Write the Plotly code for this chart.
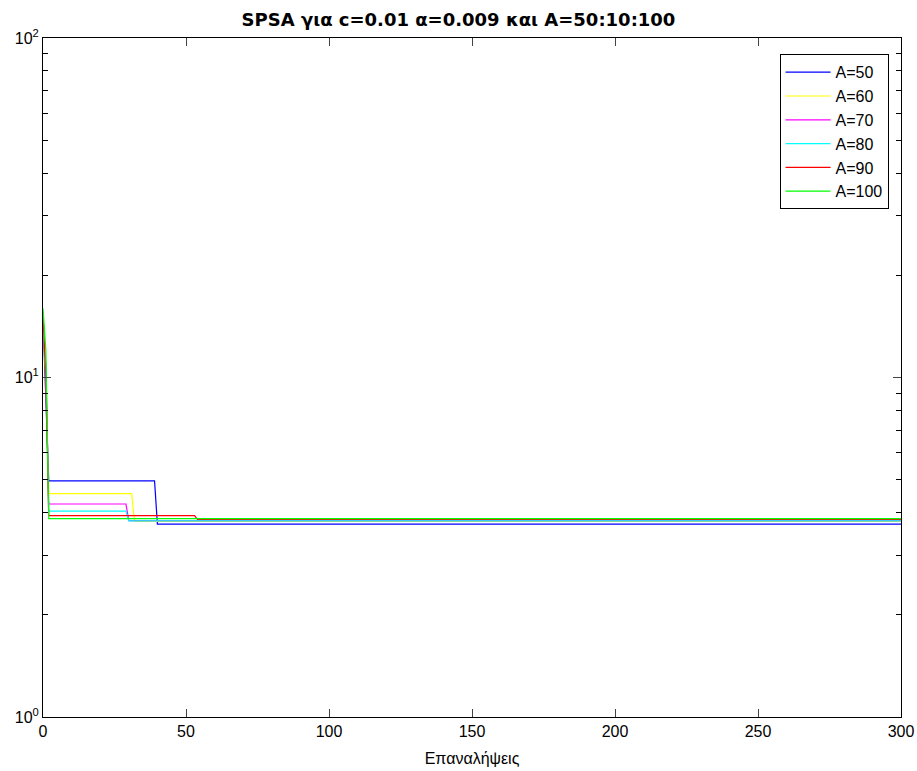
import plotly.graph_objects as go

# Iteration breakpoints and values (values held constant between breakpoints)
labels = ["A=50", "A=60", "A=70", "A=80", "A=90", "A=100"]
colors = ["#0000FF", "#FFFF00", "#FF00FF", "#00FFFF", "#FF0000", "#00FF00"]

x_a50 = [0, 1, 2, 39, 40, 300]
y_a50 = [15.0, 8.8, 4.96, 4.96, 3.70, 3.70]

x_a60 = [0, 1, 2, 31, 32, 300]
y_a60 = [14.0, 10.0, 4.55, 4.55, 3.77, 3.77]

x_a70 = [0, 1, 2, 29, 30, 300]
y_a70 = [13.0, 11.0, 4.24, 4.24, 3.79, 3.79]

x_a80 = [0, 1, 2, 29, 30, 300]
y_a80 = [14.5, 10.5, 4.04, 4.04, 3.78, 3.78]

x_a90 = [0, 1, 2, 53, 54, 300]
y_a90 = [15.5, 10.0, 3.92, 3.92, 3.82, 3.82]

x_a100 = [0, 1, 2, 300]
y_a100 = [16.0, 12.0, 3.84, 3.84]

xs = [x_a50, x_a60, x_a70, x_a80, x_a90, x_a100]
ys = [y_a50, y_a60, y_a70, y_a80, y_a90, y_a100]

x_ticks = [0, 50, 100, 150, 200, 250, 300]
y_ticks = [1, 10, 100]
y_ticktext = ["10<sup>0</sup>", "10<sup>1</sup>", "10<sup>2</sup>"]
y_minor = [2, 3, 4, 5, 6, 7, 8, 9, 20, 30, 40, 50, 60, 70, 80, 90]

fig = go.Figure()
for lab, col, x, y in zip(labels, colors, xs, ys):
    fig.add_trace(go.Scatter(x=x, y=y, mode="lines", name=lab,
                             line=dict(color=col, width=1.2)))

fig.update_layout(
    width=917, height=771,
    margin=dict(l=43, r=16, t=38, b=54, autoexpand=False),
    paper_bgcolor="white", plot_bgcolor="white",
    font=dict(family="Liberation Sans, Arial", size=16, color="black"),
    title=dict(text="<b>SPSA για c=0.01 α=0.009 και A=50:10:100</b>",
               x=0.5, xanchor="center", y=0.974, yanchor="middle",
               font=dict(family="DejaVu Sans", size=18)),
    legend=dict(x=0.9855, xanchor="right", y=0.976, yanchor="top",
                bgcolor="white", bordercolor="black", borderwidth=1,
                font=dict(size=16), tracegroupgap=0, itemwidth=45),
    showlegend=True,
)
fig.update_xaxes(range=[0, 300], tickvals=x_ticks, ticks="inside", ticklen=8,
                 showline=True, linecolor="black", linewidth=1, mirror="ticks",
                 showgrid=False, zeroline=False, automargin=False,
                 tickfont=dict(size=16),
                 title=dict(text="Επαναλήψεις", font=dict(size=16), standoff=13))
fig.update_yaxes(type="log", range=[0, 2], tickvals=y_ticks, ticktext=y_ticktext,
                 ticks="inside", ticklen=8, automargin=False,
                 showline=True, linecolor="black", linewidth=1, mirror="ticks",
                 showgrid=False, zeroline=False, tickfont=dict(size=16),
                 minor=dict(ticks="inside", ticklen=5, tickcolor="black",
                            showgrid=False, tickvals=y_minor))

fig.write_html("out.html")
